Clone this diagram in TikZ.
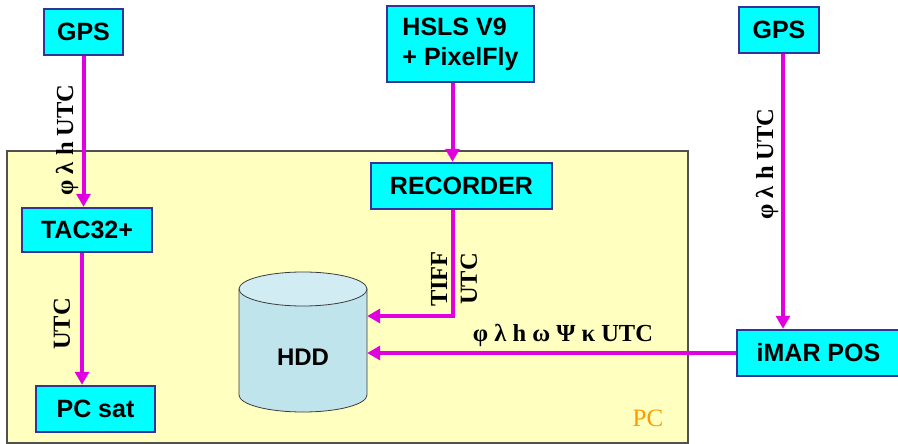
\documentclass[tikz,border=0pt]{standalone}
\usepackage{fontspec}
\setmainfont{Liberation Serif}
\setsansfont{Liberation Sans}
\usetikzlibrary{arrows.meta}

\definecolor{boxcyan}{RGB}{0,255,255}
\definecolor{boxblue}{RGB}{51,51,153}
\definecolor{flowmag}{RGB}{224,0,224}
\definecolor{pcyellow}{RGB}{255,255,192}
\definecolor{pcedge}{RGB}{80,80,80}
\definecolor{pcorange}{RGB}{255,153,0}
\definecolor{hddbody}{RGB}{192,228,236}
\definecolor{hddtop}{RGB}{210,236,244}
\definecolor{hddedge}{RGB}{60,60,60}

\begin{document}
\begin{tikzpicture}[x=1pt,y=-1pt]
\useasboundingbox (0,0) rectangle (898,444);
\clip (0,0) rectangle (898,444);

% PC area
\node (pc) at (347.5,297) [draw=pcedge,fill=pcyellow,line width=1.5pt,minimum width=681pt,minimum height=292pt,inner sep=0]{};
\node (pclabel) at (648,418) [text=pcorange,font=\fontsize{25}{30}\selectfont]{PC};

% disk, drawn by hand
\filldraw[fill=hddbody,draw=hddedge,line width=0.8pt] (239,289) -- (239,395)
  arc[start angle=180,end angle=0,x radius=64,y radius=17] -- (367,289) -- cycle;
\filldraw[fill=hddtop,draw=hddedge,line width=0.8pt] (303,289) ellipse[x radius=64,y radius=17];

% set style here
\tikzstyle{unit}=[draw=boxblue,fill=boxcyan,line width=2.5pt,inner sep=0,font=\fontsize{25}{30}\selectfont\sffamily\bfseries]
\tikzstyle{flow}=[draw=flowmag,line width=4pt,-{Triangle[width=14pt,length=13pt]}]
\tikzstyle{tag}=[font=\fontsize{24.5}{28}\selectfont\bfseries,inner sep=0]
%
\node (gpsL) at (83.5,32) [unit,minimum width=79pt,minimum height=46pt]{GPS};
\node (tac) at (87,230) [unit,minimum width=130pt,minimum height=44pt]{TAC32+};
\node (pcsat) at (95.5,409) [unit,minimum width=119pt,minimum height=46pt]{PC sat};
\node (cam) at (460.5,44) [unit,minimum width=147pt,minimum height=76pt,align=left]{HSLS V9\\+ PixelFly};
\node (rec) at (461.5,186) [unit,minimum width=181pt,minimum height=46pt]{RECORDER};
\node (gpsR) at (779,30) [unit,minimum width=80pt,minimum height=46pt]{GPS};
\node (imar) at (818.5,353) [unit,minimum width=163pt,minimum height=46pt]{iMAR POS};
\node (hdd) at (303,357) [minimum width=128pt,minimum height=110pt,inner sep=0,font=\fontsize{24}{28}\selectfont\sffamily\bfseries]{HDD};

% labels
\node (tagL) at (67,140) [tag,rotate=90]{φ λ h UTC};
\node (tagS) at (62,324) [tag,rotate=90]{UTC};
\node (tagT) at (439,279) [tag,rotate=90]{TIFF};
\node (tagU) at (469,279) [tag,rotate=90]{UTC};
\node (tagR) at (767,164) [tag,rotate=90]{φ λ h UTC};
\node (tagI) at (563,335) [tag]{φ λ h ω Ψ κ UTC};

\draw[flow] (gpsL.south) -- (gpsL.south |- tac.north);
\draw[flow] ([xshift=-5pt]tac.south) -- ([xshift=-5pt]tac.south |- pcsat.north);
\draw[flow] ([xshift=-8pt]cam.south) -- ([xshift=-8pt]cam.south |- rec.north);
\draw[flow] ([xshift=-9pt]rec.south) |- ([yshift=41pt]hdd.east);
\draw[flow] ([xshift=4pt]gpsR.south) -- ([xshift=4pt]gpsR.south |- imar.north);
\draw[flow] (imar.west) -- (imar.west -| hdd.east);

\end{tikzpicture}
\end{document}
